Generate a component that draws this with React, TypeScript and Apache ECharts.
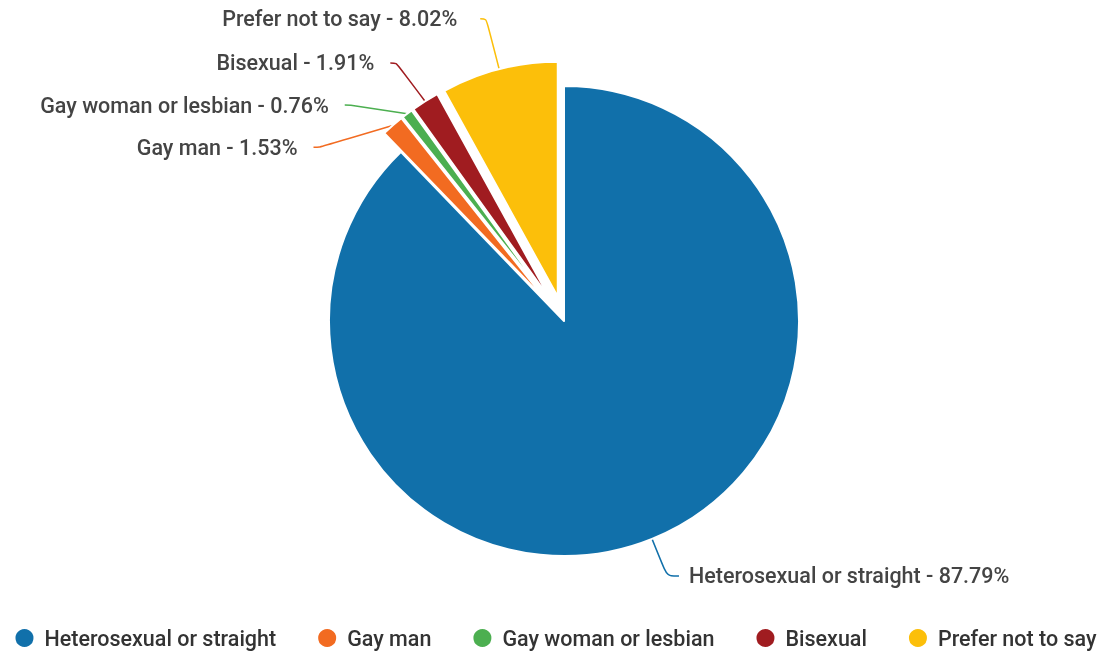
import React, { useEffect, useRef } from "react";
import * as echarts from "echarts";

const categories = [
  "Heterosexual or straight",
  "Gay man",
  "Gay woman or lesbian",
  "Bisexual",
  "Prefer not to say",
];
const values = [87.79, 1.53, 0.76, 1.91, 8.02];
const colors = ["#1170aa", "#f26b21", "#4caf50", "#a01c20", "#fcbf0a"];
const sliced = [false, true, true, true, true];
const labelGaps = [10, 16, 16, 16, 23];

export default function App() {
  const ref = useRef<HTMLDivElement>(null);
  useEffect(() => {
    if (!ref.current) return;
    const chart = echarts.init(ref.current, undefined, { renderer: "svg" });
    const data = categories.map((name, i) => ({
      name,
      value: values[i],
      selected: sliced[i],
      itemStyle: { color: colors[i] },
      label: { distanceToLabelLine: labelGaps[i] },
      ...(sliced[i] ? {} : { labelLine: { length: 40, length2: 12 } }),
    }));
    chart.setOption({
      animation: false,
      legend: {
        bottom: 1,
        left: "center",
        icon: "circle",
        itemWidth: 30,
        itemHeight: 20,
        itemGap: 40,
        selectedMode: false,
        textStyle: { fontFamily: "Roboto", fontSize: 21.5, fontWeight: 500, color: "#333" },
        data: categories,
      },
      series: [
        {
          type: "pie",
          center: [564, 321],
          radius: 235,
          startAngle: 90,
          clockwise: true,
          selectedMode: "multiple",
          selectedOffset: 25,
          emphasis: { disabled: true },
          itemStyle: { borderColor: "#fff", borderWidth: 2 },
          label: {
            show: true,
            position: "outside",
            formatter: "{b} - {c}%",
            fontFamily: "Roboto",
            fontSize: 21.5,
            fontWeight: 500,
            color: "#444",
            lineHeight: 39,
          },
          labelLine: {
            show: true,
            length: 52,
            length2: 6,
            smooth: 0.3,
            lineStyle: { width: 1.5 },
          },
          data,
        },
      ],
    });
    return () => chart.dispose();
  }, []);
  return (
    <div
      ref={ref}
      style={{ position: "fixed", left: 0, top: 0, width: 1110, height: 655 }}
    />
  );
}
